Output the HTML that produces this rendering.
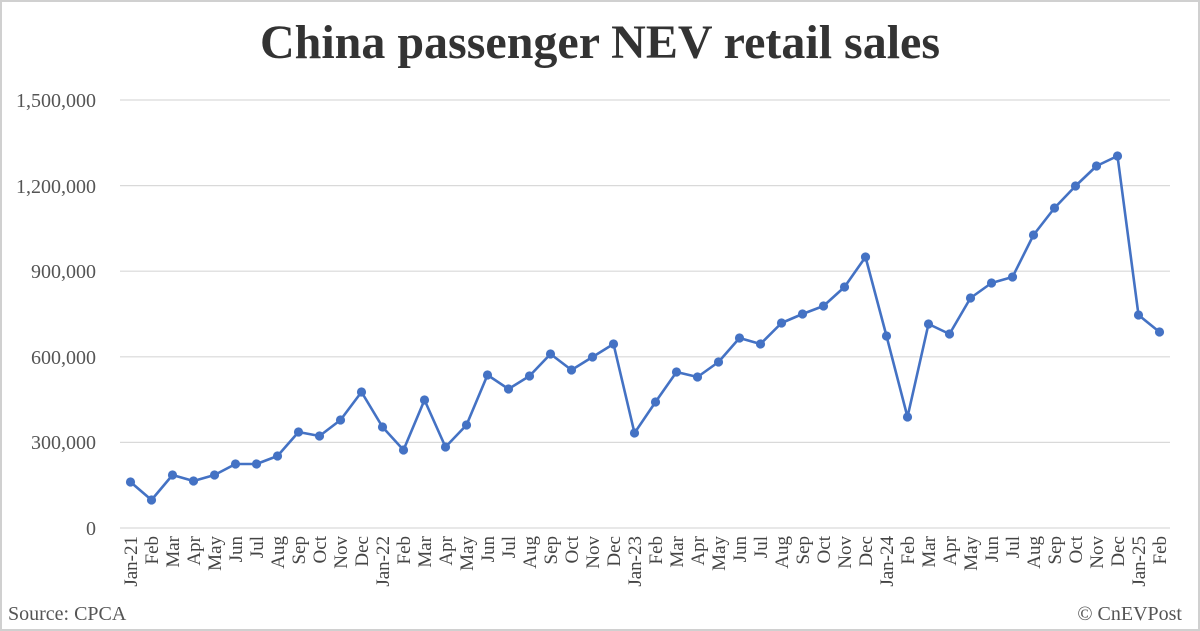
<!DOCTYPE html>
<html><head><meta charset="utf-8"><style>
html,body{margin:0;padding:0;background:#fff;}
svg{display:block;}
</style></head><body>
<svg width="1200" height="631" xmlns="http://www.w3.org/2000/svg" font-family="Liberation Serif, serif">
<rect x="1" y="1" width="1198" height="629" fill="#fff" stroke="#d0d0d0" stroke-width="2"/>
<text x="600" y="58" text-anchor="middle" font-size="48" font-weight="bold" fill="#333">China passenger NEV retail sales</text>
<g stroke="#d9d9d9" stroke-width="1.2">
<line x1="120" y1="100" x2="1170" y2="100"/><line x1="120" y1="185.6" x2="1170" y2="185.6"/>
<line x1="120" y1="271.2" x2="1170" y2="271.2"/><line x1="120" y1="356.8" x2="1170" y2="356.8"/>
<line x1="120" y1="442.4" x2="1170" y2="442.4"/><line x1="120" y1="528" x2="1170" y2="528"/>
</g>
<g font-size="20" fill="#555" text-anchor="end">
<text x="96" y="107">1,500,000</text><text x="96" y="193">1,200,000</text><text x="96" y="278">900,000</text>
<text x="96" y="364">600,000</text><text x="96" y="449">300,000</text><text x="96" y="535">0</text>
</g>
<g id="xl" font-size="19" fill="#444" text-anchor="end"></g>
<polyline id="ln" fill="none" stroke="#4472c4" stroke-width="2.6" stroke-linejoin="round"/>
<g id="pts" fill="#4472c4"></g>
<text x="8" y="620" font-size="20" fill="#555">Source: CPCA</text>
<text x="1182" y="620" font-size="20" fill="#555" text-anchor="end">© CnEVPost</text>
<script>
var ys=[482,500,475,481,475,464,464,456,432,436,420,392,427,450,400,447,425,375,389,376,354,370,357,344,433,402,372,377,362,338,344,323,314,306,287,257,336,417,324,334,298,283,277,235,208,186,166,156,315,332];
var m=["Feb","Mar","Apr","May","Jun","Jul","Aug","Sep","Oct","Nov","Dec"];
var labels=[];["Jan-21","Jan-22","Jan-23","Jan-24"].forEach(function(j){labels.push(j);labels=labels.concat(m);});
labels.push("Jan-25");labels.push("Feb");
var ns="http://www.w3.org/2000/svg",p=[],g=document.getElementById("pts"),xl=document.getElementById("xl");
ys.forEach(function(y,i){var x=130.5+21*i;p.push(x+","+y);
var c=document.createElementNS(ns,"circle");c.setAttribute("cx",x);c.setAttribute("cy",y);c.setAttribute("r",4.6);g.appendChild(c);
var t=document.createElementNS(ns,"text");t.setAttribute("transform","translate("+(x+6.5)+",536) rotate(-90)");t.textContent=labels[i];xl.appendChild(t);});
document.getElementById("ln").setAttribute("points",p.join(" "));
</script>
</svg>
</body></html>
